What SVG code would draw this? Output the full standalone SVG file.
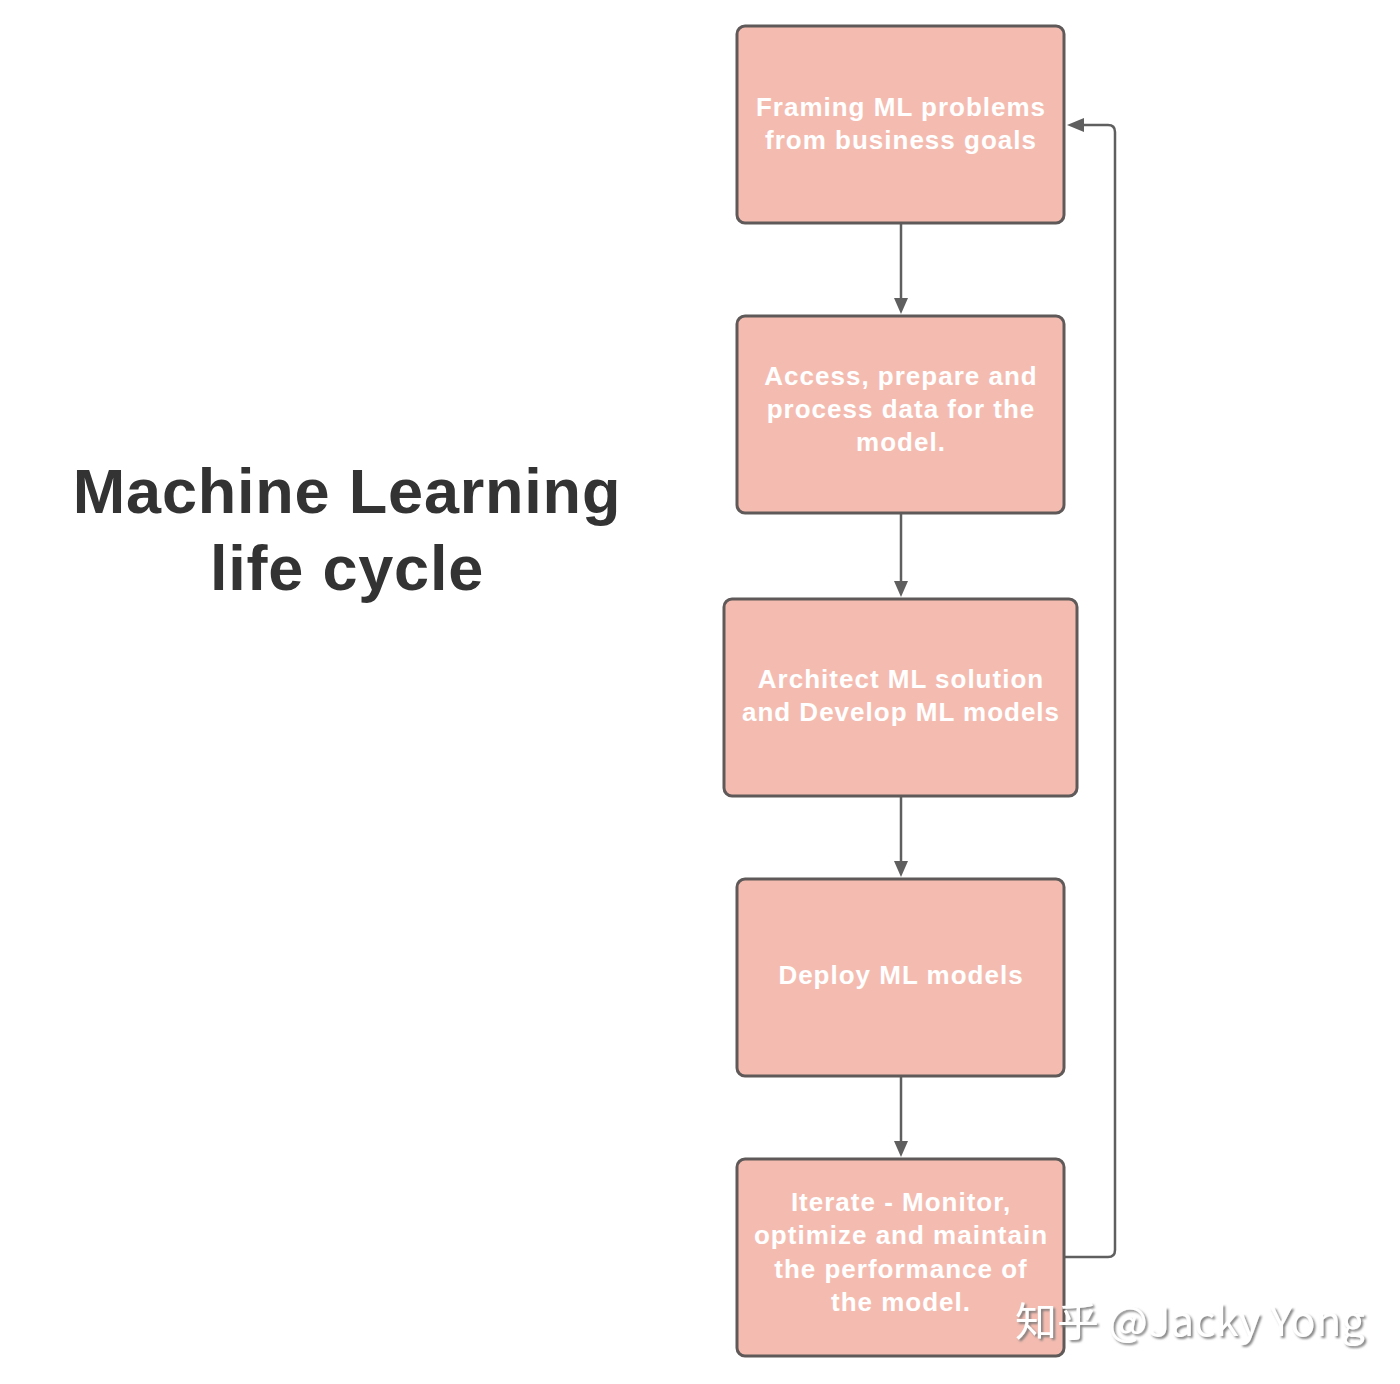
<svg xmlns="http://www.w3.org/2000/svg" width="1400" height="1384" viewBox="0 0 1400 1384">
<style>
.box{fill:#f4bcb1;stroke:#5f5a59;stroke-width:3}
.lbl{fill:#ffffff;font-family:"Liberation Sans",Arial,sans-serif;font-weight:bold;font-size:26px;letter-spacing:1px;text-anchor:middle}
.title{fill:#333333;font-family:"Liberation Sans",Arial,sans-serif;font-weight:bold;font-size:63px;letter-spacing:0.8px;text-anchor:middle}
.con{fill:none;stroke:#5f5f5f;stroke-width:2.5}
.wm{fill:#ffffff;font-family:"Noto Sans CJK SC","Liberation Sans",sans-serif;font-size:40px;filter:url(#sh)}
</style>
<defs>
<filter id="sh" x="-10%" y="-30%" width="120%" height="160%">
<feDropShadow dx="2" dy="2" stdDeviation="0.8" flood-color="#777777" flood-opacity="0.9"/>
</filter>
</defs>
<rect width="1400" height="1384" fill="#ffffff"/>
<g id="title">
<text class="title" x="347" y="513">Machine Learning</text>
<text class="title" x="347" y="590">life cycle</text>
</g>
<g id="connectors">
<path class="con" d="M901,224 V300"/>
<path d="M894,298 L908,298 L901,314 Z" fill="#5f5f5f"/>
<path class="con" d="M901,514 V582"/>
<path d="M894,581 L908,581 L901,597 Z" fill="#5f5f5f"/>
<path class="con" d="M901,797 V862"/>
<path d="M894,861 L908,861 L901,877 Z" fill="#5f5f5f"/>
<path class="con" d="M901,1077 V1142"/>
<path d="M894,1141 L908,1141 L901,1157 Z" fill="#5f5f5f"/>
<path class="con" d="M1065,1257 H1108 Q1115,1257 1115,1250 V132 Q1115,125 1108,125 H1082"/>
<path d="M1084,118 L1084,132 L1067,125 Z" fill="#5f5f5f"/>
</g>
<g id="n1">
<rect class="box" x="737" y="26" width="327" height="197" rx="8"/>
<text class="lbl" x="901" y="116">Framing ML problems</text>
<text class="lbl" x="901" y="149">from business goals</text>
</g>
<g id="n2">
<rect class="box" x="737" y="316" width="327" height="197" rx="8"/>
<text class="lbl" x="901" y="385">Access, prepare and</text>
<text class="lbl" x="901" y="418">process data for the</text>
<text class="lbl" x="901" y="451">model.</text>
</g>
<g id="n3">
<rect class="box" x="724" y="599" width="353" height="197" rx="8"/>
<text class="lbl" x="901" y="688">Architect ML solution</text>
<text class="lbl" x="901" y="721">and Develop ML models</text>
</g>
<g id="n4">
<rect class="box" x="737" y="879" width="327" height="197" rx="8"/>
<text class="lbl" x="901" y="984">Deploy ML models</text>
</g>
<g id="n5">
<rect class="box" x="737" y="1159" width="327" height="197" rx="8"/>
<text class="lbl" x="901" y="1211">Iterate - Monitor,</text>
<text class="lbl" x="901" y="1244">optimize and maintain</text>
<text class="lbl" x="901" y="1278">the performance of</text>
<text class="lbl" x="901" y="1311">the model.</text>
</g>
<g id="watermark">
<text class="wm" x="1015" y="1336" textLength="350" lengthAdjust="spacingAndGlyphs">知乎 @Jacky Yong</text>
</g>
</svg>
